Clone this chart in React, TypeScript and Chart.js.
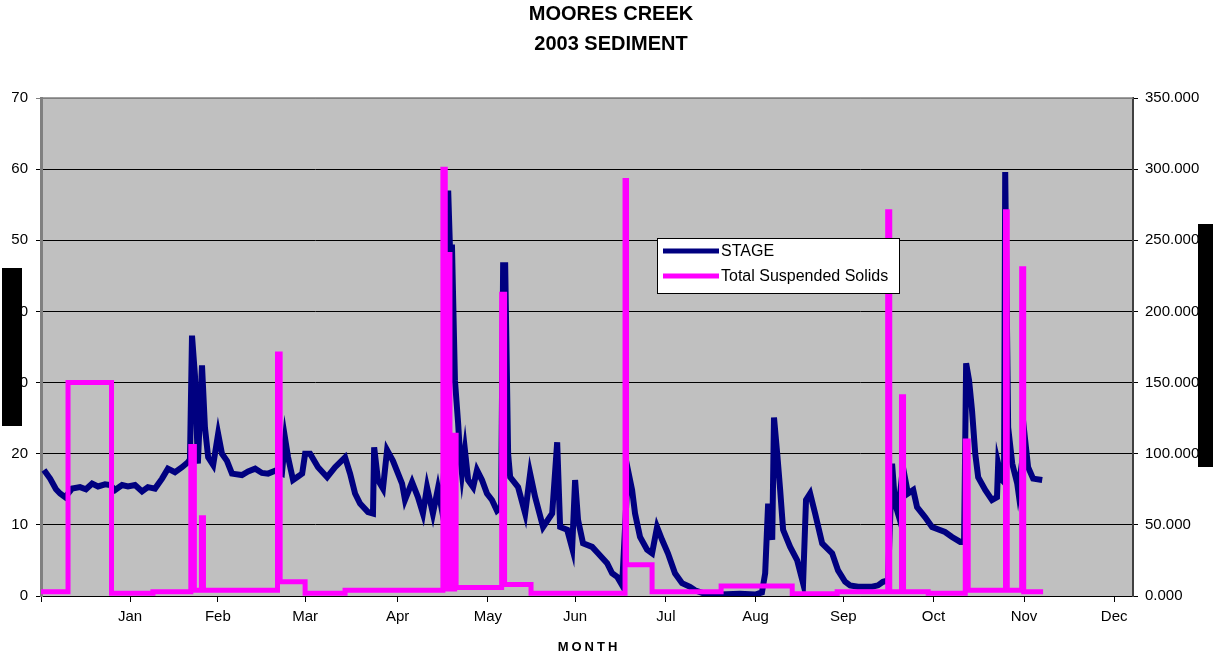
import { useEffect, useRef } from "react";
import { Chart, registerables } from "chart.js";

Chart.register(...registerables);

const TITLE_LINES = ["MOORES CREEK", "2003 SEDIMENT"];
const X_TITLE = "MONTH";
const SERIES_NAMES = ["STAGE", "Total Suspended Solids"];

// x unit: days from the left edge of the axis
const MONTH_LABELS = ["", "Jan", "Feb", "Mar", "Apr", "May", "Jun", "Jul", "Aug", "Sep", "Oct", "Nov", "Dec"];
const MONTH_TICKS = [0, 30.3, 60.2, 89.9, 121.4, 152.1, 181.8, 212.7, 243.2, 273.1, 303.8, 334.6, 365.3];
const X_MAX = 371.7;

const STAGE_DAY = [
  1.0, 3.1, 5.1, 6.5, 8.2, 9.2, 10.6, 13.3, 15.3, 17.4,
  19.4, 21.8, 23.5, 25.2, 27.6, 29.6, 32.0, 34.4, 36.4, 38.8,
  41.2, 43.2, 45.6, 48.0, 50.0, 50.7, 51.4, 52.4, 53.4, 54.8,
  55.8, 56.9, 58.6, 60.3, 61.6, 63.3, 65.0, 68.4, 70.5, 72.9,
  75.2, 77.3, 79.7, 82.0, 83.1, 84.1, 85.8, 87.5, 88.9, 89.9,
  91.6, 94.3, 97.4, 100.1, 103.5, 105.2, 106.9, 108.6, 111.3, 113.0,
  113.4, 114.7, 116.4, 117.8, 119.8, 122.9, 123.9, 126.3, 128.3, 130.0,
  131.4, 133.4, 135.1, 136.5, 137.5, 138.6, 139.2, 139.9, 140.9, 142.0,
  142.6, 143.3, 144.3, 145.4, 147.1, 148.4, 150.1, 151.8, 153.5, 155.2,
  156.6, 157.3, 158.0, 159.0, 159.7, 162.4, 164.8, 166.5, 168.2, 170.9,
  174.0, 175.7, 176.7, 179.1, 180.8, 181.8, 182.8, 184.5, 187.6, 189.6,
  192.7, 194.4, 196.1, 197.8, 199.8, 201.2, 202.2, 203.9, 206.3, 208.0,
  209.7, 211.4, 213.4, 215.8, 218.2, 220.9, 222.6, 226.0, 231.1, 237.9,
  243.1, 245.4, 246.5, 247.5, 248.9, 249.5, 250.6, 251.6, 252.6, 255.0,
  257.4, 259.4, 260.4, 261.8, 263.5, 265.9, 269.3, 271.3, 273.7, 275.4,
  278.1, 282.9, 284.9, 286.6, 288.3, 289.7, 290.7, 291.7, 293.4, 295.1,
  296.9, 298.2, 300.9, 303.3, 307.7, 310.1, 312.9, 314.2, 314.9, 315.9,
  316.9, 318.0, 319.0, 321.4, 323.7, 325.4, 325.8, 327.1, 327.8, 328.2,
  329.2, 330.6, 332.3, 332.6, 335.0, 336.0, 337.7, 340.8,
];

const STAGE_VAL = [
  17.7, 16.5, 15.0, 14.4, 13.9, 14.4, 15.1, 15.3, 15.0, 15.8,
  15.4, 15.7, 15.6, 14.9, 15.6, 15.4, 15.6, 14.7, 15.3, 15.1,
  16.5, 17.9, 17.4, 18.1, 18.8, 19.2, 36.6, 31.0, 18.6, 32.4,
  23.7, 19.5, 18.4, 22.8, 20.0, 19.0, 17.2, 17.0, 17.5, 17.9,
  17.3, 17.2, 17.6, 17.2, 22.1, 19.5, 16.3, 16.8, 17.2, 20.0,
  20.0, 18.1, 16.7, 18.1, 19.5, 17.2, 14.4, 13.0, 11.8, 11.6,
  20.9, 16.3, 15.1, 20.5, 19.0, 15.8, 13.5, 16.0, 13.9, 11.6,
  15.3, 11.6, 15.1, 12.0, 20.0, 57.0, 49.0, 49.0, 30.3, 24.2,
  20.0, 17.2, 20.5, 16.3, 15.3, 17.7, 16.3, 14.4, 13.5, 12.0,
  12.5, 46.5, 46.5, 20.0, 16.7, 15.3, 11.6, 17.2, 13.9, 9.7,
  11.6, 21.6, 9.7, 9.3, 6.7, 16.3, 10.7, 7.4, 6.9, 6.0,
  4.6, 3.2, 2.7, 1.5, 17.7, 14.9, 11.6, 8.3, 6.5, 6.0,
  9.7, 7.9, 6.0, 3.2, 1.8, 1.3, 0.8, 0.3, 0.2, 0.3,
  0.2, 0.5, 3.2, 13.0, 7.9, 25.1, 20.0, 14.9, 9.3, 6.9,
  5.0, 1.8, 13.5, 14.4, 11.6, 7.4, 6.0, 3.6, 2.0, 1.5,
  1.3, 1.3, 1.5, 2.0, 2.2, 18.6, 13.0, 11.6, 18.1, 14.4,
  14.9, 12.5, 11.1, 9.7, 9.0, 8.3, 7.6, 7.6, 32.7, 30.3,
  26.1, 20.0, 16.7, 14.9, 13.5, 13.9, 18.6, 16.3, 16.0, 59.6,
  23.7, 18.6, 15.8, 14.9, 21.9, 18.1, 16.5, 16.3,
];

// Total suspended solids: value holds from each day until the next one
const TSS_DAY = [
  0, 9.2, 24.0, 38.1, 51.0, 52.2, 54.6, 55.3, 80.5, 81.4,
  89.9, 103.5, 136.8, 137.6, 138.6, 139.2, 140.2, 140.8, 141.3, 156.8,
  157.8, 166.8, 198.8, 199.3, 208.0, 231.5, 255.7, 271.0, 288.2, 288.9,
  292.9, 293.6, 302.0, 314.6, 315.6, 328.3, 328.9, 333.8, 334.5, 341.1,
];
const TSS_VAL = [
  3, 150, 2, 3, 105, 4, 55, 4, 170, 10,
  2, 4, 300, 5, 240, 113, 5, 113, 6, 212,
  8, 2, 292, 22, 3, 7, 1.5, 3, 270, 3,
  140, 3, 2, 109, 4, 270, 4, 230, 3, 3,
];

const STAGE_TICKS = { min: 0, max: 70, step: 10 };
const TSS_TICKS = { min: 0, max: 350, step: 50 };

const FONT = "'Liberation Sans', Arial, sans-serif";
const NAVY = "#000080";
const MAGENTA = "#FF00FF";

const decorPlugin = {
  id: "decor",
  beforeDraw(chart: any) {
    const { ctx, chartArea: a } = chart;
    ctx.save();
    ctx.fillStyle = "#FFFFFF";
    ctx.fillRect(0, 0, chart.width, chart.height);
    ctx.fillStyle = "#C0C0C0";
    ctx.fillRect(a.left, a.top, a.right - a.left, a.bottom - a.top);
    ctx.restore();
  },
  afterDraw(chart: any) {
    const { ctx, chartArea: a } = chart;
    ctx.save();
    // top border of plot
    ctx.strokeStyle = "#808080";
    ctx.lineWidth = 1.5;
    ctx.beginPath();
    ctx.moveTo(a.left, a.top);
    ctx.lineTo(a.right, a.top);
    ctx.stroke();

    // titles
    ctx.fillStyle = "#000";
    ctx.textAlign = "center";
    ctx.textBaseline = "middle";
    ctx.font = `bold 20px ${FONT}`;
    ctx.fillText(TITLE_LINES[0], 611, 14);
    ctx.fillText(TITLE_LINES[1], 611, 44);

    // x axis title
    ctx.font = `bold 13px ${FONT}`;
    try { (ctx as any).letterSpacing = "3px"; } catch (e) {}
    ctx.fillText(X_TITLE, (a.left + a.right) / 2 + 2, 647);
    try { (ctx as any).letterSpacing = "0px"; } catch (e) {}

    // legend
    const lx = 657, ly = 238, lw = 242, lh = 55;
    ctx.fillStyle = "#FFFFFF";
    ctx.fillRect(lx, ly, lw, lh);
    ctx.strokeStyle = "#000";
    ctx.lineWidth = 1;
    ctx.strokeRect(lx + 0.5, ly + 0.5, lw, lh);
    const ds = chart.data.datasets;
    const rows = [
      { y: 251, color: ds[1].borderColor, label: ds[1].label },
      { y: 276, color: ds[0].borderColor, label: ds[0].label },
    ];
    ctx.textAlign = "left";
    ctx.font = `16px ${FONT}`;
    for (const r of rows) {
      ctx.strokeStyle = r.color;
      ctx.lineWidth = 5;
      ctx.beginPath();
      ctx.moveTo(663, r.y);
      ctx.lineTo(719, r.y);
      ctx.stroke();
      ctx.fillStyle = "#000";
      ctx.fillText(r.label, 721, r.y + 1);
    }

    // black masking boxes present in the reference
    ctx.fillStyle = "#000";
    ctx.fillRect(2, 268, 20, 158);
    ctx.fillRect(1198, 224, 15, 243);
    ctx.restore();
  },
};

export default function App() {
  const ref = useRef<HTMLCanvasElement | null>(null);

  useEffect(() => {
    const canvas = ref.current;
    if (!canvas) return;
    const stagePts = STAGE_DAY.map((d, i) => ({ x: d, y: STAGE_VAL[i] }));
    const tssPts = TSS_DAY.map((d, i) => ({ x: d, y: TSS_VAL[i] }));
    const tickFont = { family: FONT, size: 15 };

    const chart = new Chart(canvas, {
      type: "line",
      data: {
        datasets: [
          {
            label: SERIES_NAMES[1],
            data: tssPts,
            yAxisID: "y1",
            borderColor: MAGENTA,
            backgroundColor: MAGENTA,
            borderWidth: 5,
            pointRadius: 0,
            stepped: "before",
            borderJoinStyle: "miter",
            borderCapStyle: "butt",
            order: 1,
          } as any,
          {
            label: SERIES_NAMES[0],
            data: stagePts,
            yAxisID: "y",
            borderColor: NAVY,
            backgroundColor: NAVY,
            borderWidth: 6,
            pointRadius: 0,
            tension: 0,
            borderJoinStyle: "miter",
            borderCapStyle: "butt",
            order: 2,
          } as any,
        ],
      },
      options: {
        animation: false,
        responsive: false,
        events: [],
        layout: { padding: { top: 98, left: 0, right: 0, bottom: 0 } },
        plugins: {
          legend: { display: false },
          title: { display: false },
          tooltip: { enabled: false },
        },
        scales: {
          x: {
            type: "linear",
            min: 0,
            max: X_MAX,
            afterBuildTicks: (s: any) => {
              s.ticks = MONTH_TICKS.map((v) => ({ value: v }));
            },
            afterFit: (s: any) => {
              s.height = 64;
            },
            ticks: {
              autoSkip: false,
              maxRotation: 0,
              padding: 6,
              color: "#000",
              font: tickFont,
              callback: (_v: any, i: number) => MONTH_LABELS[i],
            },
            grid: { drawOnChartArea: false, tickLength: 6, color: "#000" },
            border: { color: "#000", width: 1 },
          },
          y: {
            position: "left",
            min: STAGE_TICKS.min,
            max: STAGE_TICKS.max,
            afterFit: (s: any) => {
              s.width = 41;
            },
            ticks: { stepSize: STAGE_TICKS.step, padding: 8, color: "#000", font: tickFont },
            grid: {
              tickLength: 5,
              lineWidth: 1,
              color: (c: any) => (c.tick && c.tick.value === STAGE_TICKS.max ? "#808080" : "#000"),
            },
            border: { color: "#808080", width: 3 },
          },
          y1: {
            position: "right",
            min: TSS_TICKS.min,
            max: TSS_TICKS.max,
            afterFit: (s: any) => {
              s.width = 80;
            },
            ticks: {
              stepSize: TSS_TICKS.step,
              padding: 7,
              color: "#000",
              font: tickFont,
              callback: (v: any) => Number(v).toFixed(3),
            },
            grid: { drawOnChartArea: false, tickLength: 5, color: "#000" },
            border: { color: "#404040", width: 2 },
          },
        },
      } as any,
      plugins: [decorPlugin],
    });
    return () => chart.destroy();
  }, []);

  return (
    <div style={{ position: "fixed", left: 0, top: 0, width: 1213, height: 660, background: "#fff" }}>
      <canvas ref={ref} width={1213} height={660} style={{ display: "block", width: 1213, height: 660 }} />
    </div>
  );
}
